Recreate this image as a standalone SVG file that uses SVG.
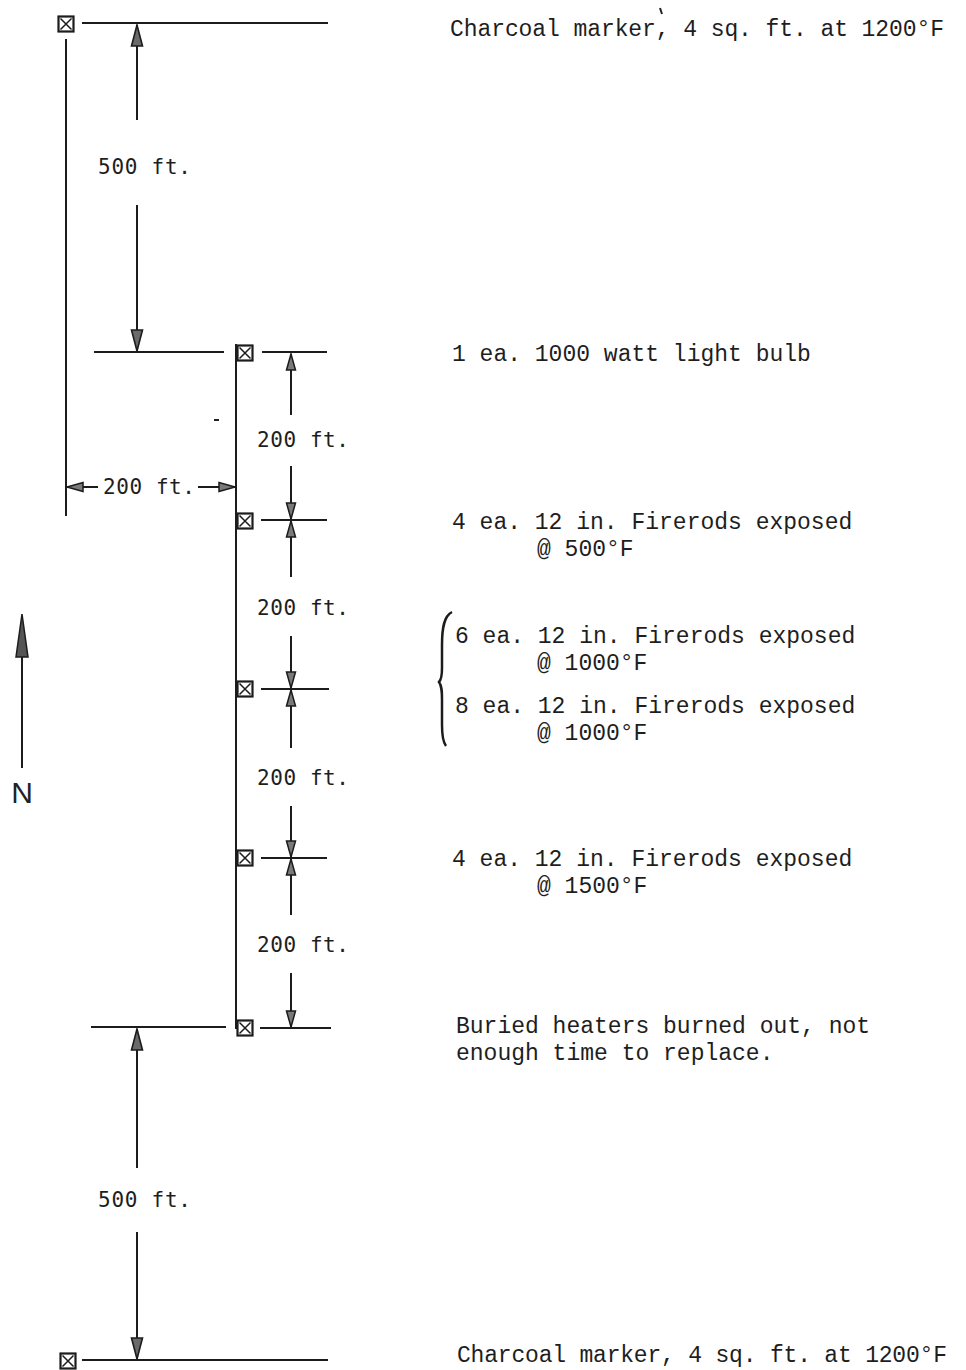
<svg xmlns="http://www.w3.org/2000/svg" width="966" height="1370" viewBox="0 0 966 1370">
<style>
.ln{stroke:#1c1c1c;stroke-width:2;fill:none;stroke-linecap:square}
.dim{stroke:#1c1c1c;stroke-width:2;fill:none}
.bx{fill:#fff;stroke:#1c1c1c;stroke-width:2.2}
.bxx{stroke:#1c1c1c;stroke-width:1.5}
.tw{font-family:"Liberation Mono","Courier New",monospace;font-size:23px;fill:#1e1e1e}
.dl{font-family:"DejaVu Sans Mono","Liberation Mono",monospace;font-size:21px;fill:#1e1e1e}
</style>
<defs>
<marker id="ahL" viewBox="-23 -7 24 14" markerWidth="24" markerHeight="14" refX="0" refY="0" orient="auto" markerUnits="userSpaceOnUse">
<path d="M0,0 L-21,-5.5 L-21,5.5 Z" fill="#6a6a6a" stroke="#1c1c1c" stroke-width="1.6"/>
</marker>
<marker id="ahS" viewBox="-18 -6 19 12" markerWidth="19" markerHeight="12" refX="0" refY="0" orient="auto" markerUnits="userSpaceOnUse">
<path d="M0,0 L-16,-4.5 L-16,4.5 Z" fill="#7a7a7a" stroke="#1c1c1c" stroke-width="1.5"/>
</marker>
<g id="boxsym">
<rect class="bx" x="-7.5" y="-7.5" width="15" height="15"/>
<path class="bxx" d="M-5.5,-5.5 L5.5,5.5 M5.5,-5.5 L-5.5,5.5"/>
</g>
</defs>
<rect width="966" height="1370" fill="#fff"/>

<g id="connectors">
<line class="ln" x1="83" y1="23" x2="327" y2="23"/>
<line class="ln" x1="66" y1="40" x2="66" y2="515"/>
<line class="dim" x1="137" y1="120" x2="137" y2="25" marker-end="url(#ahL)"/>
<line class="dim" x1="137" y1="205" x2="137" y2="351" marker-end="url(#ahL)"/>
<line class="ln" x1="95" y1="352" x2="223" y2="352"/>
<line class="ln" x1="263" y1="352" x2="326" y2="352"/>
<line class="ln" x1="236" y1="345" x2="236" y2="1028"/>
<line class="dim" x1="98" y1="487" x2="67" y2="487" marker-end="url(#ahS)"/>
<line class="dim" x1="198" y1="487" x2="235" y2="487" marker-end="url(#ahS)"/>
<line class="ln" x1="262" y1="520" x2="326" y2="520"/>
<line class="ln" x1="262" y1="689" x2="328" y2="689"/>
<line class="ln" x1="262" y1="858" x2="326" y2="858"/>
<line class="ln" x1="261" y1="1028" x2="330" y2="1028"/>
<line class="dim" x1="291" y1="415" x2="291" y2="354" marker-end="url(#ahS)"/>
<line class="dim" x1="291" y1="466" x2="291" y2="519" marker-end="url(#ahS)"/>
<line class="dim" x1="291" y1="577" x2="291" y2="521" marker-end="url(#ahS)"/>
<line class="dim" x1="291" y1="636" x2="291" y2="688" marker-end="url(#ahS)"/>
<line class="dim" x1="291" y1="748" x2="291" y2="690" marker-end="url(#ahS)"/>
<line class="dim" x1="291" y1="806" x2="291" y2="857" marker-end="url(#ahS)"/>
<line class="dim" x1="291" y1="915" x2="291" y2="859" marker-end="url(#ahS)"/>
<line class="dim" x1="291" y1="973" x2="291" y2="1027" marker-end="url(#ahS)"/>
<line class="ln" x1="92" y1="1027" x2="225" y2="1027"/>
<line class="dim" x1="137" y1="1168" x2="137" y2="1029" marker-end="url(#ahL)"/>
<line class="dim" x1="137" y1="1232" x2="137" y2="1359" marker-end="url(#ahL)"/>
<line class="ln" x1="83" y1="1360" x2="327" y2="1360"/>
</g>

<g id="marker-top"><use href="#boxsym" x="66" y="24"/></g>
<g id="bulb"><use href="#boxsym" x="245" y="353"/></g>
<g id="firerods-500"><use href="#boxsym" x="245" y="521"/></g>
<g id="firerods-1000"><use href="#boxsym" x="245" y="689"/></g>
<g id="firerods-1500"><use href="#boxsym" x="245" y="858"/></g>
<g id="buried"><use href="#boxsym" x="245" y="1028"/></g>
<g id="marker-bottom"><use href="#boxsym" x="68" y="1361"/></g>

<g id="dimension-labels">
<text class="dl" x="98" y="174" textLength="93">500 ft.</text>
<text class="dl" x="257" y="447" textLength="92">200 ft.</text>
<text class="dl" x="103" y="494" textLength="92">200 ft.</text>
<text class="dl" x="257" y="615" textLength="92">200 ft.</text>
<text class="dl" x="257" y="785" textLength="92">200 ft.</text>
<text class="dl" x="257" y="952" textLength="92">200 ft.</text>
<text class="dl" x="98" y="1207" textLength="93">500 ft.</text>
</g>

<g id="north">
<line class="ln" x1="22" y1="650" x2="22" y2="767"/>
<path d="M22,614 L16,657 L28,657 Z" fill="#555" stroke="#1c1c1c" stroke-width="1.5"/>
<text x="22" y="803" text-anchor="middle" font-family="Liberation Sans, Arial, sans-serif" font-size="30" fill="#222">N</text>
</g>

<g id="notes">
<text class="tw" x="450" y="36" textLength="494">Charcoal marker, 4 sq. ft. at 1200°F</text>
<text class="tw" x="452" y="361">1 ea. 1000 watt light bulb</text>
<text class="tw" x="452" y="529">4 ea. 12 in. Firerods exposed</text>
<text class="tw" x="537" y="556">@ 500°F</text>
<text class="tw" x="455" y="643">6 ea. 12 in. Firerods exposed</text>
<text class="tw" x="537" y="670">@ 1000°F</text>
<text class="tw" x="455" y="713">8 ea. 12 in. Firerods exposed</text>
<text class="tw" x="537" y="740">@ 1000°F</text>
<text class="tw" x="452" y="866">4 ea. 12 in. Firerods exposed</text>
<text class="tw" x="537" y="893">@ 1500°F</text>
<text class="tw" x="456" y="1033">Buried heaters burned out, not</text>
<text class="tw" x="456" y="1060">enough time to replace.</text>
<text class="tw" x="457" y="1362" textLength="490">Charcoal marker, 4 sq. ft. at 1200°F</text>
<path d="M452,612 C444,616 442,628 442,645 L442,668 C442,676 441,680 439,682 C442,686 442,692 442,700 L442,725 C442,736 443,742 446,746" fill="none" stroke="#1c1c1c" stroke-width="2.5"/>
<line x1="660" y1="8" x2="662" y2="14" stroke="#222" stroke-width="2"/>
<line x1="214" y1="420" x2="219" y2="420" stroke="#222" stroke-width="2"/>
</g>
</svg>
